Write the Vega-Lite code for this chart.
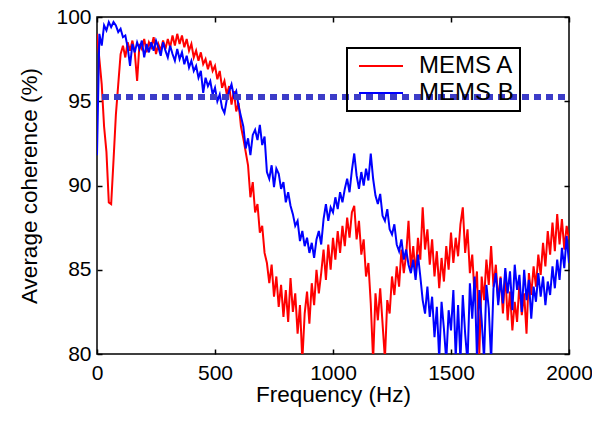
{
"$schema":"https://vega.github.io/schema/vega-lite/v6.json",
"width":472,"height":337,
"autosize":{"type":"none"},
"padding":{"left":97,"top":17,"right":23,"bottom":68},
"config":{
 "font":"Liberation Sans",
 "view":{"stroke":"black","strokeWidth":1.5},
 "axis":{"domain":false,"grid":false,"tickSize":-5,"tickColor":"black","tickWidth":1.5,"labelFontSize":21,"labelColor":"black","titleFontSize":22.5,"titleFontWeight":"normal","titleColor":"black","labelPadding":13,"labelFlush":false,"format":"d"}
},
"datasets":{
"a":[
{"f":0,"v":99.0},{"f":10,"v":97.5},{"f":20,"v":96.0},{"f":30,"v":93.5},{"f":40,"v":92.0},{"f":50,"v":89.0},{"f":60,"v":88.9},{"f":70,"v":91.5},{"f":80,"v":94.2},{"f":90,"v":96.0},
{"f":100,"v":97.8},{"f":110,"v":98.3},{"f":120,"v":97.6},{"f":130,"v":98.5},{"f":140,"v":98.0},{"f":150,"v":98.6},{"f":160,"v":97.9},{"f":170,"v":96.2},{"f":180,"v":98.4},{"f":190,"v":98.1},
{"f":200,"v":98.7},{"f":210,"v":97.9},{"f":220,"v":98.5},{"f":230,"v":98.2},{"f":240,"v":98.8},{"f":250,"v":97.8},{"f":260,"v":98.4},{"f":270,"v":98.0},{"f":280,"v":98.6},{"f":290,"v":98.1},
{"f":300,"v":98.7},{"f":310,"v":98.2},{"f":320,"v":98.9},{"f":330,"v":98.3},{"f":340,"v":99.0},{"f":350,"v":98.4},{"f":360,"v":98.9},{"f":370,"v":98.2},{"f":380,"v":98.7},{"f":390,"v":98.0},
{"f":400,"v":98.4},{"f":410,"v":97.6},{"f":420,"v":98.0},{"f":430,"v":97.4},{"f":440,"v":97.9},{"f":450,"v":97.2},{"f":460,"v":97.5},{"f":470,"v":96.9},{"f":480,"v":97.4},{"f":490,"v":96.8},
{"f":500,"v":97.1},{"f":510,"v":96.3},{"f":520,"v":96.8},{"f":530,"v":95.8},{"f":540,"v":96.2},{"f":550,"v":95.4},{"f":560,"v":95.9},{"f":570,"v":94.8},{"f":580,"v":95.6},{"f":590,"v":94.4},
{"f":600,"v":94.9},{"f":610,"v":93.5},{"f":620,"v":92.8},{"f":630,"v":92.0},{"f":640,"v":91.2},{"f":650,"v":89.3},{"f":660,"v":90.2},{"f":670,"v":88.4},{"f":680,"v":88.9},{"f":690,"v":87.2},
{"f":700,"v":87.6},{"f":710,"v":86.0},{"f":720,"v":85.4},{"f":730,"v":84.2},{"f":740,"v":85.3},{"f":750,"v":83.4},{"f":760,"v":84.6},{"f":770,"v":82.8},{"f":780,"v":84.1},{"f":790,"v":82.2},
{"f":800,"v":83.8},{"f":810,"v":81.9},{"f":820,"v":84.5},{"f":830,"v":82.5},{"f":840,"v":83.6},{"f":850,"v":81.2},{"f":860,"v":82.9},{"f":870,"v":79.6},{"f":880,"v":82.4},{"f":890,"v":83.7},
{"f":900,"v":81.8},{"f":910,"v":84.2},{"f":920,"v":82.9},{"f":930,"v":85.0},{"f":940,"v":83.6},{"f":950,"v":84.8},{"f":960,"v":86.2},{"f":970,"v":84.4},{"f":980,"v":86.5},{"f":990,"v":85.0},
{"f":1000,"v":86.9},{"f":1010,"v":85.6},{"f":1020,"v":87.3},{"f":1030,"v":86.0},{"f":1040,"v":87.6},{"f":1050,"v":86.4},{"f":1060,"v":88.1},{"f":1070,"v":86.9},{"f":1080,"v":88.4},{"f":1090,"v":88.8},
{"f":1100,"v":86.8},{"f":1110,"v":87.9},{"f":1120,"v":85.9},{"f":1130,"v":86.8},{"f":1140,"v":84.6},{"f":1150,"v":85.4},{"f":1160,"v":83.0},{"f":1170,"v":79.6},{"f":1180,"v":83.6},{"f":1190,"v":82.0},
{"f":1200,"v":83.9},{"f":1210,"v":81.8},{"f":1220,"v":79.7},{"f":1230,"v":83.2},{"f":1240,"v":82.4},{"f":1250,"v":84.6},{"f":1260,"v":83.5},{"f":1270,"v":85.2},{"f":1280,"v":84.0},{"f":1290,"v":86.2},
{"f":1300,"v":84.8},{"f":1310,"v":85.9},{"f":1320,"v":87.9},{"f":1330,"v":85.1},{"f":1340,"v":86.4},{"f":1350,"v":84.7},{"f":1360,"v":86.9},{"f":1370,"v":85.6},{"f":1380,"v":88.7},{"f":1390,"v":86.2},
{"f":1400,"v":87.4},{"f":1410,"v":85.3},{"f":1420,"v":86.8},{"f":1430,"v":84.6},{"f":1440,"v":86.1},{"f":1450,"v":83.9},{"f":1460,"v":85.7},{"f":1470,"v":84.3},{"f":1480,"v":86.4},{"f":1490,"v":85.0},
{"f":1500,"v":87.2},{"f":1510,"v":85.4},{"f":1520,"v":86.9},{"f":1530,"v":85.8},{"f":1540,"v":87.7},{"f":1550,"v":88.7},{"f":1560,"v":86.0},{"f":1570,"v":87.4},{"f":1580,"v":84.8},{"f":1590,"v":85.9},
{"f":1600,"v":83.5},{"f":1610,"v":84.9},{"f":1620,"v":80.0},{"f":1630,"v":84.6},{"f":1640,"v":83.2},{"f":1650,"v":85.6},{"f":1660,"v":84.1},{"f":1670,"v":86.4},{"f":1680,"v":84.0},{"f":1690,"v":85.3},
{"f":1700,"v":83.1},{"f":1710,"v":84.6},{"f":1720,"v":82.4},{"f":1730,"v":84.9},{"f":1740,"v":82.0},{"f":1750,"v":83.7},{"f":1760,"v":81.4},{"f":1770,"v":83.1},{"f":1780,"v":81.9},{"f":1790,"v":84.2},
{"f":1800,"v":82.3},{"f":1810,"v":83.6},{"f":1820,"v":81.2},{"f":1830,"v":84.8},{"f":1840,"v":83.5},{"f":1850,"v":85.2},{"f":1860,"v":84.0},{"f":1870,"v":85.9},{"f":1880,"v":84.7},{"f":1890,"v":86.6},
{"f":1900,"v":85.2},{"f":1910,"v":87.3},{"f":1920,"v":85.9},{"f":1930,"v":87.8},{"f":1940,"v":86.1},{"f":1950,"v":88.3},{"f":1960,"v":86.5},{"f":1970,"v":88.0},{"f":1980,"v":86.2},{"f":1990,"v":87.6},{"f":2000,"v":86.8}
],
"b":[
{"f":0,"v":91.8},{"f":10,"v":99.0},{"f":20,"v":98.3},{"f":30,"v":99.5},{"f":40,"v":99.2},{"f":50,"v":99.7},{"f":60,"v":99.4},{"f":70,"v":99.7},{"f":80,"v":99.5},{"f":90,"v":99.1},
{"f":100,"v":99.3},{"f":110,"v":98.8},{"f":120,"v":98.9},{"f":130,"v":98.2},{"f":140,"v":97.1},{"f":150,"v":98.4},{"f":160,"v":97.9},{"f":170,"v":98.5},{"f":180,"v":98.1},{"f":190,"v":98.6},
{"f":200,"v":97.6},{"f":210,"v":98.4},{"f":220,"v":97.9},{"f":230,"v":98.5},{"f":240,"v":98.0},{"f":250,"v":98.6},{"f":260,"v":98.2},{"f":270,"v":97.7},{"f":280,"v":98.5},{"f":290,"v":98.0},
{"f":300,"v":97.6},{"f":310,"v":98.3},{"f":320,"v":97.8},{"f":330,"v":97.4},{"f":340,"v":98.1},{"f":350,"v":97.5},{"f":360,"v":97.9},{"f":370,"v":97.2},{"f":380,"v":97.7},{"f":390,"v":97.0},
{"f":400,"v":97.4},{"f":410,"v":96.8},{"f":420,"v":97.1},{"f":430,"v":96.4},{"f":440,"v":96.8},{"f":450,"v":95.5},{"f":460,"v":96.4},{"f":470,"v":95.9},{"f":480,"v":96.2},{"f":490,"v":95.4},
{"f":500,"v":95.8},{"f":510,"v":95.0},{"f":520,"v":95.4},{"f":530,"v":94.6},{"f":540,"v":94.3},{"f":550,"v":95.1},{"f":560,"v":95.6},{"f":570,"v":96.0},{"f":580,"v":95.3},{"f":590,"v":95.6},
{"f":600,"v":94.7},{"f":610,"v":94.1},{"f":620,"v":93.5},{"f":630,"v":92.2},{"f":640,"v":92.8},{"f":650,"v":91.8},{"f":660,"v":93.0},{"f":670,"v":93.3},{"f":680,"v":92.7},{"f":690,"v":93.6},
{"f":700,"v":92.4},{"f":710,"v":92.9},{"f":720,"v":90.8},{"f":730,"v":90.4},{"f":740,"v":91.2},{"f":750,"v":89.9},{"f":760,"v":91.0},{"f":770,"v":90.7},{"f":780,"v":89.8},{"f":790,"v":90.2},
{"f":800,"v":89.0},{"f":810,"v":89.6},{"f":820,"v":88.8},{"f":830,"v":88.3},{"f":840,"v":87.6},{"f":850,"v":87.9},{"f":860,"v":86.7},{"f":870,"v":87.3},{"f":880,"v":86.4},{"f":890,"v":86.9},
{"f":900,"v":86.0},{"f":910,"v":86.6},{"f":920,"v":85.7},{"f":930,"v":86.8},{"f":940,"v":87.3},{"f":950,"v":86.5},{"f":960,"v":88.0},{"f":970,"v":88.9},{"f":980,"v":87.9},{"f":990,"v":88.7},
{"f":1000,"v":88.4},{"f":1010,"v":89.3},{"f":1020,"v":88.6},{"f":1030,"v":89.6},{"f":1040,"v":89.0},{"f":1050,"v":89.8},{"f":1060,"v":90.4},{"f":1070,"v":89.6},{"f":1080,"v":90.9},{"f":1090,"v":91.9},
{"f":1100,"v":90.6},{"f":1110,"v":89.8},{"f":1120,"v":90.8},{"f":1130,"v":90.0},{"f":1140,"v":91.0},{"f":1150,"v":90.3},{"f":1160,"v":91.9},{"f":1170,"v":90.4},{"f":1180,"v":89.4},{"f":1190,"v":88.9},
{"f":1200,"v":89.5},{"f":1210,"v":88.2},{"f":1220,"v":87.9},{"f":1230,"v":88.6},{"f":1240,"v":87.4},{"f":1250,"v":87.1},{"f":1260,"v":87.7},{"f":1270,"v":86.5},{"f":1280,"v":86.1},{"f":1290,"v":86.8},
{"f":1300,"v":85.6},{"f":1310,"v":86.2},{"f":1320,"v":85.3},{"f":1330,"v":84.8},{"f":1340,"v":85.6},{"f":1350,"v":84.4},{"f":1360,"v":85.9},{"f":1370,"v":84.6},{"f":1380,"v":83.2},{"f":1390,"v":82.4},
{"f":1400,"v":84.0},{"f":1410,"v":82.2},{"f":1420,"v":83.4},{"f":1430,"v":81.0},{"f":1440,"v":82.8},{"f":1450,"v":79.7},{"f":1460,"v":83.1},{"f":1470,"v":81.5},{"f":1480,"v":79.6},{"f":1490,"v":82.6},
{"f":1500,"v":81.4},{"f":1510,"v":83.8},{"f":1520,"v":79.8},{"f":1530,"v":82.9},{"f":1540,"v":79.6},{"f":1550,"v":83.5},{"f":1560,"v":81.2},{"f":1570,"v":79.5},{"f":1580,"v":84.2},{"f":1590,"v":82.1},
{"f":1600,"v":84.6},{"f":1610,"v":79.8},{"f":1620,"v":83.8},{"f":1630,"v":82.0},{"f":1640,"v":79.7},{"f":1650,"v":84.1},{"f":1660,"v":82.7},{"f":1670,"v":79.6},{"f":1680,"v":83.9},{"f":1690,"v":84.8},
{"f":1700,"v":82.9},{"f":1710,"v":84.5},{"f":1720,"v":83.0},{"f":1730,"v":85.1},{"f":1740,"v":83.6},{"f":1750,"v":84.9},{"f":1760,"v":82.6},{"f":1770,"v":85.3},{"f":1780,"v":83.8},{"f":1790,"v":84.7},
{"f":1800,"v":82.5},{"f":1810,"v":85.0},{"f":1820,"v":83.2},{"f":1830,"v":84.4},{"f":1840,"v":82.1},{"f":1850,"v":84.0},{"f":1860,"v":83.1},{"f":1870,"v":84.8},{"f":1880,"v":83.4},{"f":1890,"v":84.6},
{"f":1900,"v":82.9},{"f":1910,"v":84.3},{"f":1920,"v":83.5},{"f":1930,"v":85.2},{"f":1940,"v":83.9},{"f":1950,"v":85.6},{"f":1960,"v":84.4},{"f":1970,"v":86.3},{"f":1980,"v":85.1},{"f":1990,"v":87.0},{"f":2000,"v":85.4}
],
"thr":[{"y":95.25}]
},
"layer":[
 {"data":{"name":"a"},"mark":{"type":"line","strokeWidth":2,"clip":true},
  "encoding":{
   "x":{"field":"f","type":"quantitative","scale":{"domain":[0,2000],"nice":false},"axis":{"orient":"bottom","title":"Frequency (Hz)","values":[0,500,1000,1500,2000],"titlePadding":0}},
   "y":{"field":"v","type":"quantitative","scale":{"domain":[80,100],"nice":false,"zero":false},"axis":{"orient":"left","title":"Average coherence (%)","values":[80,85,90,95,100],"labelPadding":11,"titlePadding":14}},
   "color":{"datum":"MEMS A","type":"nominal","scale":{"domain":["MEMS A","MEMS B"],"range":["#ff0000","#0000ff"]},
     "legend":{"title":null,"orient":"none","legendX":250,"legendY":31,"symbolType":"stroke","symbolSize":1936,"symbolStrokeWidth":2,"clipHeight":24,"rowPadding":3,"padding":6,"symbolOffset":5,"labelOffset":15,"labelFontSize":24,"labelColor":"black","strokeColor":"black",
       "encode":{"legend":{"update":{"strokeWidth":{"value":2}}}}}}
  }},
 {"data":{"name":"b"},"mark":{"type":"line","strokeWidth":2,"clip":true},
  "encoding":{
   "x":{"field":"f","type":"quantitative","axis":{"orient":"top","labels":false,"title":null,"values":[0,500,1000,1500,2000]}},
   "y":{"field":"v","type":"quantitative","axis":{"orient":"right","labels":false,"title":null,"values":[80,85,90,95,100]}},
   "color":{"datum":"MEMS B","type":"nominal"}
  }},
 {"data":{"name":"thr"},"mark":{"type":"rule","color":"#3c3cc8","strokeWidth":6,"strokeDash":[7,5],"strokeDashOffset":-4},
  "encoding":{"y":{"field":"y","type":"quantitative","axis":null}}}
],
"resolve":{"axis":{"x":"independent","y":"independent"}}
}
